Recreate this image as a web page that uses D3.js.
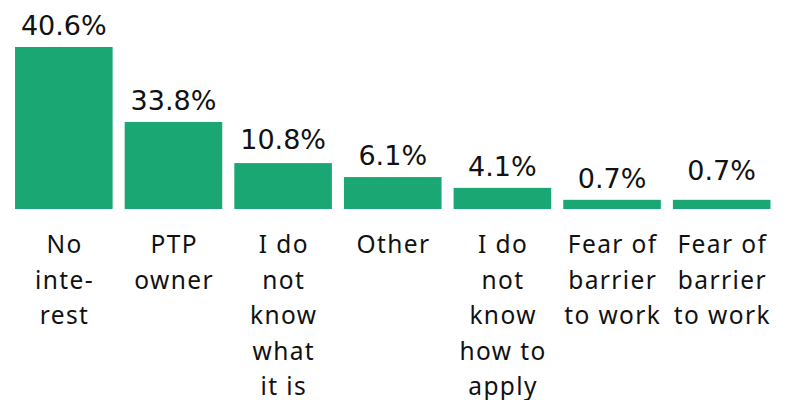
<!DOCTYPE html>
<html>
<head>
<meta charset="utf-8">
<script src="https://cdn.jsdelivr.net/npm/d3@7"></script>
<style>
  body { margin: 0; background: #fff; }
  .value { font-family: "DejaVu Sans", sans-serif; font-size: 27px; fill: #111; }
  .cat { font-family: "Noto Sans", sans-serif; font-size: 24.5px; letter-spacing: 1.4px; fill: #111; }
</style>
</head>
<body>
<div class="chart"></div>
<script>
// categories, already broken into lines
var categories = [
  ["No", "inte-", "rest"],
  ["PTP", "owner"],
  ["I do", "not", "know", "what", "it is"],
  ["Other"],
  ["I do", "not", "know", "how to", "apply"],
  ["Fear of", "barrier", "to work"],
  ["Fear of", "barrier", "to work"]
];
// printed percentages
var valueLabels = ["40.6%", "33.8%", "10.8%", "6.1%", "4.1%", "0.7%", "0.7%"];
// bar lengths as drawn (same units as the first bar)
var barValues = [40.6, 21.8, 11.5, 8.0, 5.3, 2.3, 2.3];

var svgWidth = 788;
var svgHeight = 400;
var baseY = 209;
var topY = 47;
var labelNudge = [0, 0, 2, 0, 0, 0, 8];

var svg = d3.select(".chart")
  .append("svg")
  .attr("width", svgWidth)
  .attr("height", svgHeight);

var x = d3.scaleBand()
  .domain(d3.range(categories.length))
  .range([9, 776.5])
  .paddingInner(0.11)
  .paddingOuter(0.055);

var y = d3.scaleLinear()
  .domain([0, d3.max(barValues)])
  .range([baseY, topY]);

// bars
svg.selectAll("rect")
  .data(barValues)
  .enter()
  .append("rect")
  .attr("x", (d, i) => x(i))
  .attr("y", d => y(d))
  .attr("width", x.bandwidth())
  .attr("height", d => baseY - y(d))
  .attr("fill", "#1aa774");

// value labels
svg.selectAll(".value")
  .data(barValues)
  .enter()
  .append("text")
  .attr("class", "value")
  .attr("x", (d, i) => x(i) + x.bandwidth() / 2)
  .attr("y", (d, i) => y(d) - 12 - labelNudge[i])
  .attr("text-anchor", "middle")
  .text((d, i) => valueLabels[i]);

// category labels
var cats = svg.selectAll(".cat")
  .data(categories)
  .enter()
  .append("text")
  .attr("class", "cat")
  .attr("text-anchor", "middle")
  .attr("x", (d, i) => x(i) + x.bandwidth() / 2 + 0.7)
  .attr("y", 253);

cats.selectAll("tspan")
  .data(d => d)
  .enter()
  .append("tspan")
  .attr("x", function() { return d3.select(this.parentNode).attr("x"); })
  .attr("dy", (d, i) => i === 0 ? 0 : 35.5)
  .text(d => d);
</script>
</body>
</html>
